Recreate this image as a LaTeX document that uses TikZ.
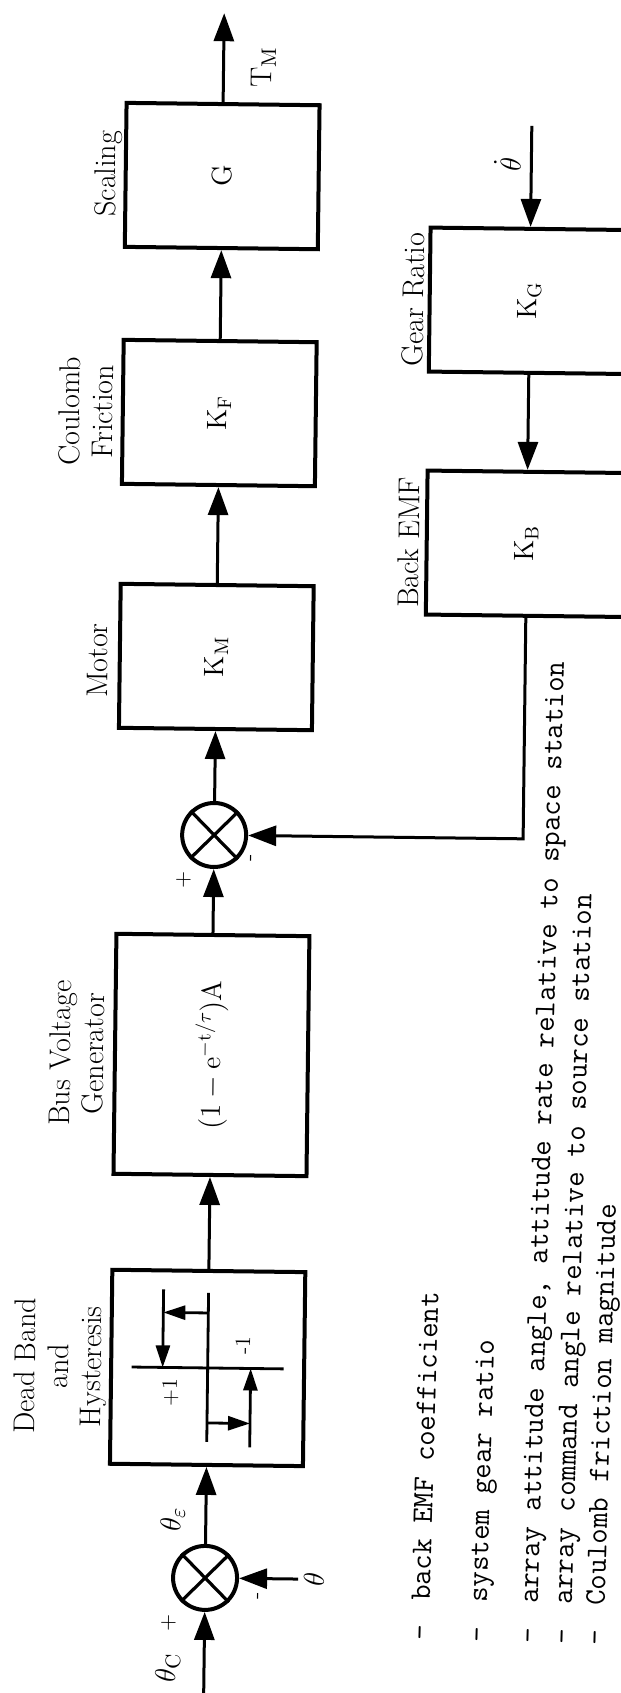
\documentclass[tikz,border=0pt]{standalone}
\usepackage{amsmath,amssymb}
\usepackage{fontspec}
\usepackage{tikz}
\usetikzlibrary{arrows.meta}
\tikzset{
  ar/.style={-{Triangle[length=14pt,width=10pt]},line width=1.5pt},
  sar/.style={-{Triangle[length=11pt,width=7pt]},line width=1.4pt},
  blk/.style={draw,line width=2pt,minimum width=72pt,minimum height=96.5pt,inner sep=0pt,font=\fontsize{14}{16}\selectfont},
  sumj/.style={draw,circle,line width=2pt,minimum size=32pt,inner sep=0pt},
  lbl/.style={font=\fontsize{15}{16.5}\selectfont,align=center,inner sep=0pt},
  sig/.style={font=\fontsize{15}{17}\selectfont,inner sep=0pt},
  pm/.style={font=\fontsize{11}{12}\selectfont,inner sep=0pt},
  lgd/.style={font=\ttfamily\fontsize{15}{17}\selectfont,anchor=base west,inner sep=0pt}
}

\begin{document}
\begin{tikzpicture}[x=0.5pt,y=0.5pt,rotate=90,transform shape]
\useasboundingbox (0,0) rectangle (1693,621);
\fill[white] (0,0) rectangle (1693,621);
% the scanned page sits slightly askew
\begin{scope}[rotate around={-0.7:(846,407)}]
% forward path
\node[sumj] (sj1) at (115,407) {};
\node[blk,minimum width=97pt] (dbh) at (325,407) {};
\node[blk,minimum width=120pt] (busv) at (638,407) {$(1 - \mathrm{e}^{-\mathrm{t}/\tau})\mathrm{A}$};
\node[sumj] (sj2) at (858,407) {};
\node[blk] (motor) at (1036,407) {$\mathrm{K}_\mathrm{M}$};
\node[blk] (fric) at (1280,407) {$\mathrm{K}_\mathrm{F}$};
\node[blk] (scal) at (1517,407) {$\mathrm{G}$};
% feedback path
\node[blk,minimum height=100pt] (gear) at (1396,98) {$\mathrm{K}_\mathrm{G}$};
\node[blk,minimum height=100pt] (bemf) at (1153,98) {$\mathrm{K}_\mathrm{B}$};
\coordinate (thc) at (0,407);
\coordinate (thin) at (115,314);
\coordinate (outp) at (1680,407);
\coordinate (thdin) at (1571,98);
\foreach \j in {sj1,sj2}
  \draw[line width=1.6pt] (\j.north west) -- (\j.south east) (\j.north east) -- (\j.south west);
% dead band with hysteresis
\begin{scope}[shift={(dbh.center)}]
\draw[line width=1.4pt] (0,-76) -- (0,76) (-74,0) -- (75,0);
\draw[sar] (55,0) -- (55,45);
\draw[sar] (78,45) -- (0,45);
\draw[sar] (-55,0) -- (-55,-43);
\draw[sar] (-79,-43) -- (0,-43);
\node[pm] (lvp) at (-25,37) {+1};
\node[pm] (lvm) at (23,-35) {-1};
\end{scope}
% connectors
\draw[ar] (thc) -- (sj1);
\draw[ar] (thin) -- (sj1);
\draw[ar] (sj1) -- (dbh);
\draw[ar] (dbh) -- (busv);
\draw[ar] (busv) -- (sj2);
\draw[ar] (sj2) -- (motor);
\draw[ar] (motor) -- (fric);
\draw[ar] (fric) -- (scal);
\draw[ar] (scal) -- (outp);
\draw[ar] (thdin) -- (gear);
\draw[ar] (gear) -- (bemf);
\draw[ar] (bemf) -| (sj2);
% block titles
\node[lbl,anchor=south] (dbht) at (325,507) {Dead Band\\and\\Hysteresis};
\node[lbl,anchor=south] (busvt) at (638,514) {Bus Voltage\\Generator};
\node[lbl,anchor=south] (motort) at (1031,515) {Motor};
\node[lbl,anchor=south] (frict) at (1280,513) {Coulomb\\Friction};
\node[lbl,anchor=south] (scalt) at (1518,507) {Scaling};
\node[lbl,anchor=south] (geart) at (1396,203) {Gear Ratio};
\node[lbl,anchor=south] (bemft) at (1153,205) {Back EMF};
% signals and signs
\node[sig] (thcl) at (25,443) {$\theta_{\mathrm{C}}$};
\node[sig] (thel) at (173,440) {$\theta_\varepsilon$};
\node[sig] (thl) at (115,298) {$\theta$};
\node[sig] (thdl) at (1532,122) {$\dot\theta$};
\node[sig] (tml) at (1626,367) {$\mathrm{T}_\mathrm{M}$};
\node[pm] (pa) at (70,443) {$+$};
\node[pm] (ma) at (98,352) {-};
\node[pm] (pb) at (813,437) {$+$};
\node[pm] (mb) at (836,368) {-};
% legend, typed on a separate strip
\begin{scope}[rotate around={-0.9:(93,100)}]
\foreach \yy/\txt [count=\i] in {182/{back EMF coefficient},125/{system gear ratio},74/{array attitude angle, attitude rate relative to space station},40/{array command angle relative to source station},7/{Coulomb friction magnitude}}{
  \node[lgd] (dsh\i) at (53,\yy) {-};
  \node[lgd] (lgd\i) at (93,\yy) {\txt};
}
\end{scope}
\end{scope}
\end{tikzpicture}
\end{document}
